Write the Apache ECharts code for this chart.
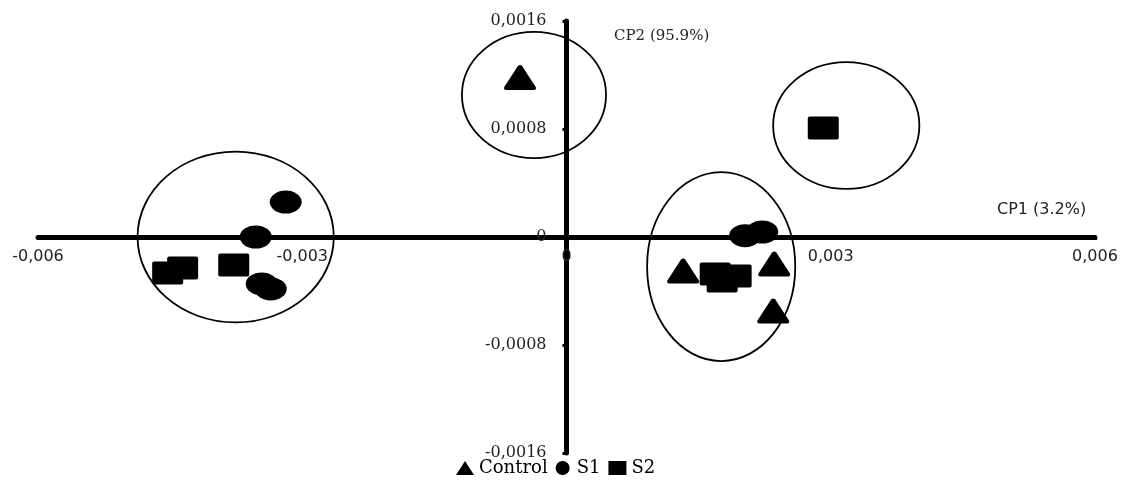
<!DOCTYPE html>
<html><head><meta charset="utf-8">
<script src="https://cdn.jsdelivr.net/npm/echarts@6/dist/echarts.min.js"></script>
<style>html,body{margin:0;padding:0;background:#fff}#c{width:1126px;height:481px}</style>
</head><body><div id="c"></div>
<script>
const seriesNames = ['Control', 'S1', 'S2'];
const controlPts = [[-0.000528, 0.001181], [0.001324, -0.000252], [0.002358, -0.0002], [0.002347, -0.000548]];
const s1Pts = [[-0.003188, 0.000259], [-0.003528, 0], [-0.00346, -0.000348], [-0.003358, -0.000385], [0.002028, 0.00001], [0.002222, 0.000037]];
const s2Pts = [[-0.004528, -0.000267], [-0.004358, -0.00023], [-0.003778, -0.000207], [0.001688, -0.000274], [0.001926, -0.000289], [0.001767, -0.000326], [0.002915, 0.000807]];
// [centerX, centerY, radiusX, radiusY] in data units
const groupEllipses = [[-0.003756, 0, 0.001114, 0.000633], [-0.000369, 0.001052, 0.000818, 0.000467], [0.003176, 0.000826, 0.00083, 0.00047], [0.001756, -0.000219, 0.000841, 0.0007]];
const xTicks = [-0.006, -0.003, 0, 0.003, 0.006];
const xTickLabels = ['-0,006', '-0,003', '0', '0,003', '0,006'];
const yTicks = [-0.0016, -0.0008, 0, 0.0008, 0.0016];
const yTickLabels = ['-0,0016', '-0,0008', '0', '0,0008', '0,0016'];
const xAxisName = 'CP1 (3.2%)';
const yAxisName = 'CP2 (95.9%)';

function lab(ticks, labels) {
  return function (v) {
    const i = ticks.findIndex(t => Math.abs(t - v) < 1e-9);
    return i >= 0 ? labels[i] : '';
  };
}

const squareSymbol = 'path://M2,0 H29 Q31,0 31,2 V21 Q31,23 29,23 H2 Q0,23 0,21 V2 Q0,0 2,0 Z';
const triSymbol = 'path://M14,1 Q16,-1 18,1 L31,22 Q32,25 29,25 H3 Q0,25 1,22 Z';

const G = {left: 38, right: 31, top: 21, bottom: 28};
const W = 1126, H = 481;
const chart = echarts.init(document.getElementById('c'), null, {renderer: 'canvas'});
const option = {
  animation: false,
  backgroundColor: '#fff',
  grid: {left: G.left, right: G.right, top: G.top, bottom: G.bottom, containLabel: false, outerBoundsMode: 'none'},
  xAxis: {
    type: 'value', min: xTicks[0], max: xTicks[xTicks.length - 1], interval: 0.003,
    position: 'bottom', offset: -(H - G.top - G.bottom) / 2,
    splitLine: {show: false},
    axisLine: {onZero: false, lineStyle: {color: '#000', width: 5}},
    axisTick: {show: true, length: 3, lineStyle: {color: '#000', width: 3}},
    axisLabel: {formatter: lab(xTicks, xTickLabels), margin: 12, color: '#222', fontFamily: 'DejaVu Sans', fontSize: 16}
  },
  yAxis: {
    type: 'value', min: yTicks[0], max: yTicks[yTicks.length - 1], interval: 0.0008,
    position: 'left', offset: -(W - G.left - G.right) / 2,
    splitLine: {show: false},
    axisLine: {onZero: false, lineStyle: {color: '#000', width: 5}},
    axisTick: {show: true, length: 4, lineStyle: {color: '#000', width: 3}},
    axisLabel: {formatter: lab(yTicks, yTickLabels), margin: 20, color: '#222', fontFamily: 'DejaVu Serif', fontSize: 16}
  },
  legend: {
    data: [{name: seriesNames[0], icon: 'triangle'}, {name: seriesNames[1], icon: 'circle'}, {name: seriesNames[2], icon: 'rect'}],
    left: 456, top: 459, itemWidth: 18, itemHeight: 14, itemGap: 8, padding: 0,
    textStyle: {fontFamily: 'DejaVu Serif', fontSize: 18, color: '#000'},
    selectedMode: false
  },
  graphic: [
    {type: 'text', left: 997, top: 202, style: {text: xAxisName, fontFamily: 'DejaVu Sans', fontSize: 16, fill: '#222'}},
    {type: 'text', left: 614, top: 29, style: {text: yAxisName, fontFamily: 'DejaVu Serif', fontSize: 15, fill: '#222'}}
  ],
  series: [
    {
      type: 'custom', name: 'groups', z: 1, silent: true,
      data: groupEllipses,
      encode: {x: 0, y: 1},
      renderItem: function (params, api) {
        const c = api.coord([api.value(0), api.value(1)]);
        const s = api.size([api.value(2), api.value(3)]);
        return {type: 'ellipse', shape: {cx: c[0], cy: c[1], rx: s[0], ry: s[1]},
          style: {fill: 'none', stroke: '#000', lineWidth: 1.8}};
      }
    },
    {type: 'scatter', name: seriesNames[0], data: controlPts, symbol: triSymbol, symbolSize: [32, 25], itemStyle: {color: '#000', opacity: 1}, z: 3, emphasis: {disabled: true}},
    {type: 'scatter', name: seriesNames[1], data: s1Pts, symbol: 'circle', symbolSize: [32, 23], itemStyle: {color: '#000', opacity: 1}, z: 3, emphasis: {disabled: true}},
    {type: 'scatter', name: seriesNames[2], data: s2Pts, symbol: squareSymbol, symbolSize: [31, 23], itemStyle: {color: '#000', opacity: 1}, z: 3, emphasis: {disabled: true}}
  ]
};
chart.setOption(option);
</script>
</body></html>
